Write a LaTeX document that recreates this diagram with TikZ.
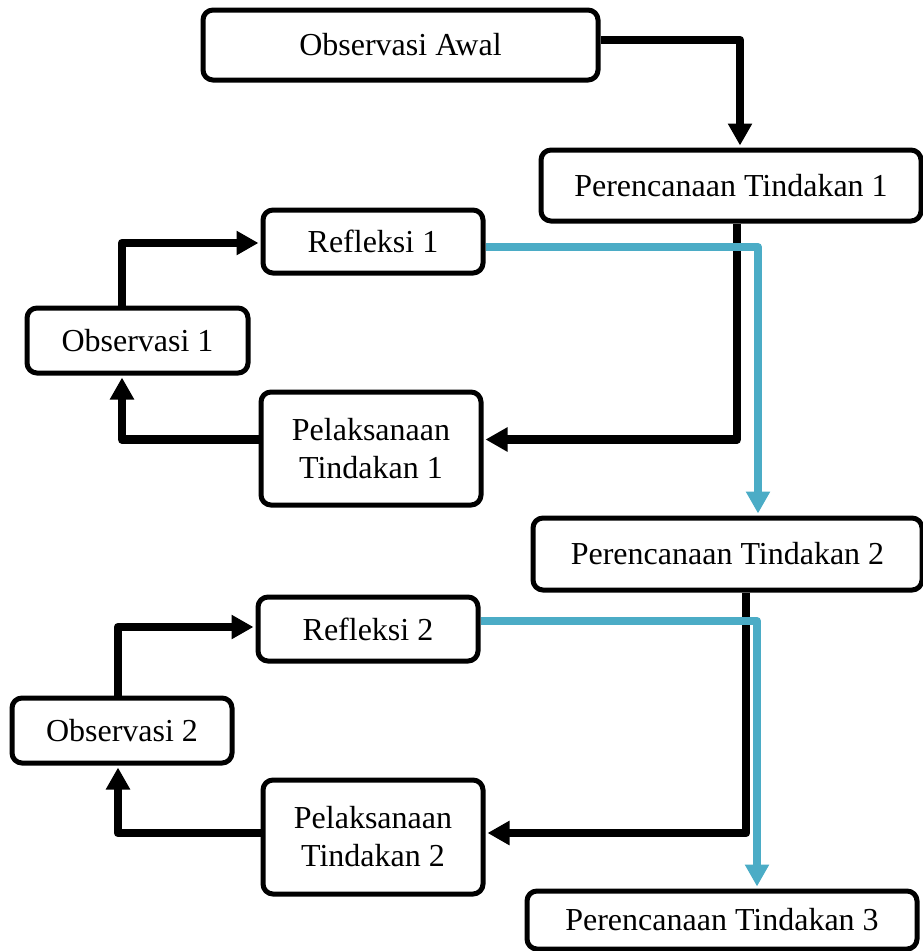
\documentclass[tikz,border=0pt]{standalone}
\usepackage{fontspec}
\setmainfont{Liberation Serif}
\usetikzlibrary{arrows.meta}
\definecolor{cyanline}{RGB}{75,172,198}
\tikzset{
  box/.style={draw=black, line width=5pt, rounded corners=10pt, fill=white,
    inner sep=0pt, align=center, font=\fontsize{32pt}{38pt}\selectfont},
  blackconn/.style={draw=black, line width=8.5pt, line join=round, shorten >=2pt,
    -{Triangle[length=22pt,width=23pt]}},
  blueconn/.style={draw=cyanline, line width=8pt, line join=round, shorten >=2pt,
    -{Triangle[length=22pt,width=23pt]}}
}
\begin{document}
\begin{tikzpicture}[x=1pt,y=-1pt]
\useasboundingbox (0,0) rectangle (923,951);
% boxes
\node[box, minimum width=395pt, minimum height=70pt] (oa) at (400.5,45) {Observasi Awal};
\node[box, minimum width=380pt, minimum height=71pt] (p1) at (731,185.5) {Perencanaan Tindakan 1};
\node[box, minimum width=220pt, minimum height=63pt] (r1) at (373,241.5) {Refleksi 1};
\node[box, minimum width=221pt, minimum height=65pt] (o1) at (137.5,340.5) {Observasi 1};
\node[box, minimum width=220pt, minimum height=113pt] (l1) at (371,448.5) {Pelaksanaan\\Tindakan 1};
\node[box, minimum width=389pt, minimum height=72pt] (p2) at (727.5,554) {Perencanaan Tindakan 2};
\node[box, minimum width=220pt, minimum height=64pt] (r2) at (368,629) {Refleksi 2};
\node[box, minimum width=220pt, minimum height=65pt] (o2) at (122,730.5) {Observasi 2};
\node[box, minimum width=220pt, minimum height=114pt] (l2) at (373,837) {Pelaksanaan\\Tindakan 2};
\node[box, minimum width=390pt, minimum height=58pt] (p3) at (722,920) {Perencanaan Tindakan 3};
% black connectors, cycle 1
\draw[blackconn] ([yshift=5pt]oa.east) -| ([xshift=9pt]p1.north);
\draw[blackconn] ([xshift=6pt]p1.south) |- ([yshift=9pt]l1.east);
\draw[blackconn] ([yshift=9pt]l1.west) -| ([xshift=-15.5pt]o1.south);
\draw[blackconn] ([xshift=-15.5pt]o1.north) |- ([yshift=-1.5pt]r1.west);
% black connectors, cycle 2
\draw[blackconn] ([xshift=18.5pt]p2.south) |- ([yshift=4pt]l2.east);
\draw[blackconn] ([yshift=4pt]l2.west) -| ([xshift=-4pt]o2.south);
\draw[blackconn] ([xshift=-4pt]o2.north) |- ([yshift=2pt]r2.west);
% blue connectors
\draw[blueconn] ([yshift=-5.5pt]r1.east) -| ([xshift=30.5pt]p2.north);
\draw[blueconn] ([yshift=8pt]r2.east) -| ([xshift=35pt]p3.north);
\end{tikzpicture}
\end{document}
